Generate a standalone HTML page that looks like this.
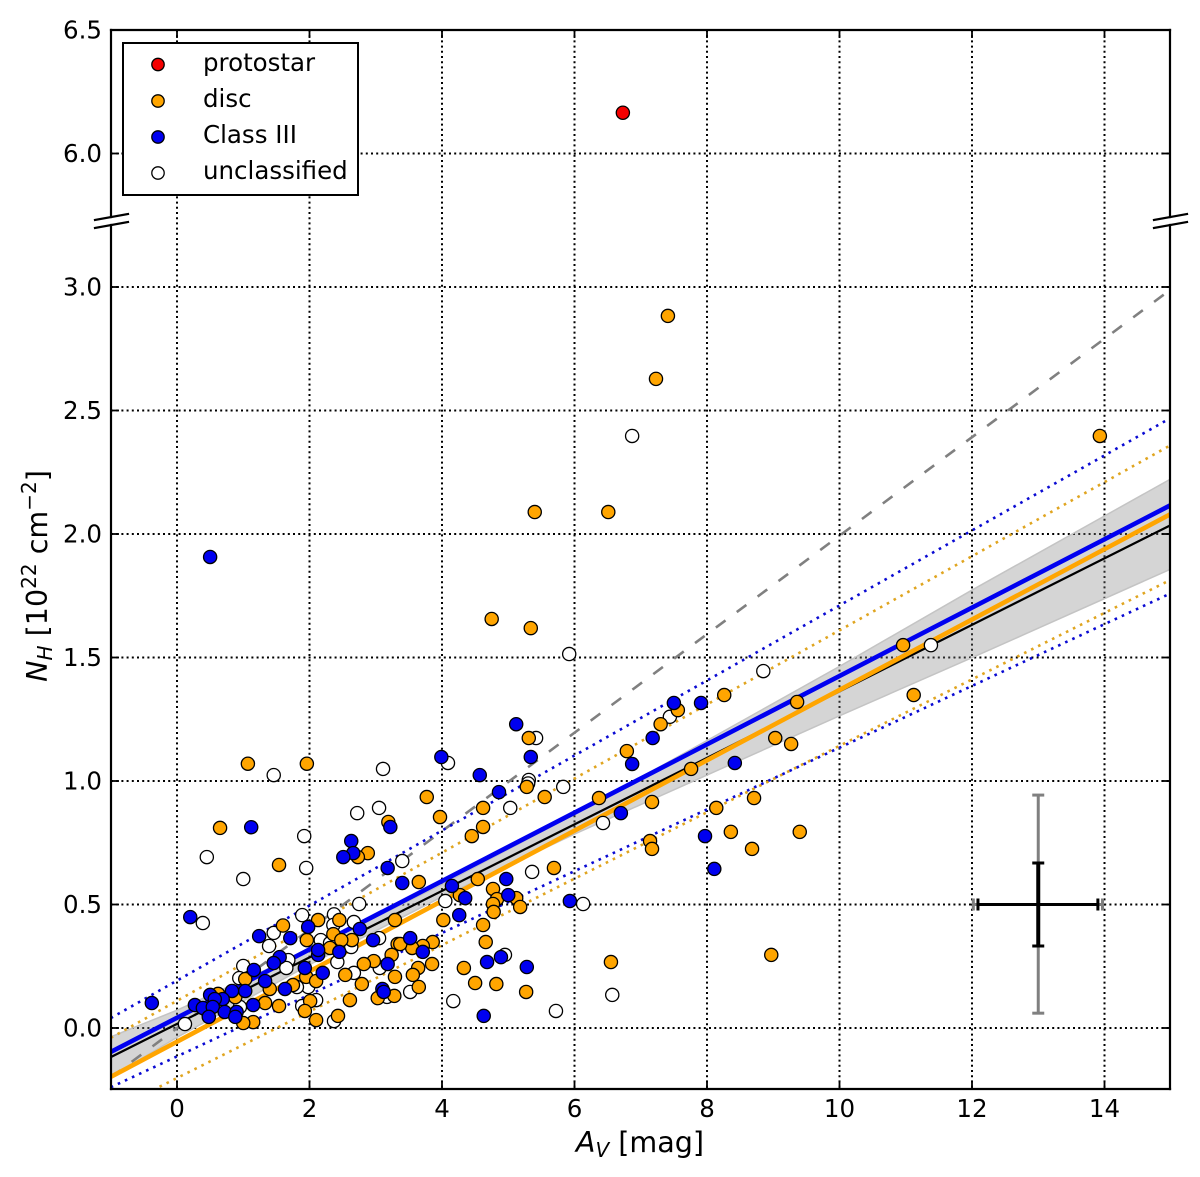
<!DOCTYPE html>
<html lang="en">
<head>
<meta charset="utf-8">
<title>NH vs AV scatter chart</title>
<style>
html,body{margin:0;padding:0;background:#fff;}
svg{display:block;}
text{font-family:"DejaVu Sans","Liberation Sans",sans-serif;fill:#000;}
</style>
</head>
<body>
<svg id="chart" xmlns="http://www.w3.org/2000/svg" width="1200" height="1177" viewBox="0 0 1200 1177">
  <defs><clipPath id="plot-clip"><rect x="111" y="30" width="1059" height="1059"/></clipPath></defs>
  <g id="grid"></g>
  <g id="fits" clip-path="url(#plot-clip)"></g>
  <g id="points"></g>
  <g id="errors"></g>
  <g id="axes"></g>
  <g>
    <rect x="123" y="43" width="235" height="152" fill="#fff" stroke="#000" stroke-width="2"/>
    <circle cx="158" cy="64.5" r="6.2" fill="#f40000" stroke="#000" stroke-width="1.3"/>
    <text x="203" y="71" font-size="24.5">protostar</text>
    <circle cx="158" cy="101" r="6.2" fill="#ffa500" stroke="#000" stroke-width="1.3"/>
    <text x="203" y="107" font-size="24.5">disc</text>
    <circle cx="158" cy="137" r="6.2" fill="#0000f0" stroke="#000" stroke-width="1.3"/>
    <text x="203" y="143" font-size="24.5">Class III</text>
    <circle cx="158" cy="173" r="6.2" fill="#ffffff" stroke="#000" stroke-width="1.3"/>
    <text x="203" y="179" font-size="24.5">unclassified</text>
  </g>
  <text x="640" y="1152" font-size="28.6" text-anchor="middle"><tspan font-style="italic">A</tspan><tspan font-style="italic" font-size="20" dy="5">V</tspan><tspan dy="-5"> [mag]</tspan></text>
  <text transform="translate(47,576) rotate(-90)" font-size="28.6" text-anchor="middle"><tspan font-style="italic">N</tspan><tspan font-style="italic" font-size="20" dy="5">H</tspan><tspan dy="-5"> [10</tspan><tspan font-size="20" dy="-11">22</tspan><tspan dy="11"> cm</tspan><tspan font-size="20" dy="-11">−2</tspan><tspan dy="11">]</tspan></text>
</svg>
<script>
const xTicks = [0, 2, 4, 6, 8, 10, 12, 14];
const xTickLabels = ["0", "2", "4", "6", "8", "10", "12", "14"];
const yTicks = [0, 0.5, 1, 1.5, 2, 2.5, 3, 6, 6.5];
const yTickLabels = ["0.0", "0.5", "1.0", "1.5", "2.0", "2.5", "3.0", "6.0", "6.5"];

const protostarPoints = [[6.73, 6.165]];
const discPoints = [
[1.07,1.07],[1.96,1.07],[0.65,0.81],[1.54,0.66],[1.6,0.415],[2.13,0.437],[2.45,0.437],[1.96,0.356],[2.36,0.38],[2.64,0.356],
[2.48,0.356],[2.31,0.324],[3.29,0.437],[3.33,0.34],[3.24,0.296],[2.97,0.271],[2.82,0.259],[2.54,0.215],[2.79,0.178],[3.29,0.207],
[2.61,0.113],[3.03,0.121],[3.28,0.13],[3.19,0.834],[2.88,0.708],[2.73,0.692],[1.03,0.198],[0.88,0.125],[0.62,0.138],[1.4,0.158],
[1.33,0.101],[1.54,0.089],[1.75,0.174],[1.95,0.207],[2.1,0.19],[2.01,0.109],[1.93,0.069],[2.1,0.032],[2.43,0.049],[1.15,0.024],
[1.0,0.02],[3.77,0.935],[3.97,0.854],[4.62,0.891],[4.62,0.814],[4.45,0.777],[5.55,0.935],[5.31,1.174],[5.28,0.976],[3.65,0.591],
[4.54,0.603],[4.27,0.538],[4.77,0.563],[4.83,0.522],[4.77,0.502],[4.78,0.47],[5.12,0.526],[5.18,0.49],[4.62,0.417],[4.66,0.348],
[5.69,0.648],[4.02,0.437],[3.86,0.348],[3.71,0.332],[3.55,0.324],[3.37,0.34],[3.64,0.243],[3.56,0.215],[3.85,0.259],[3.65,0.166],
[4.33,0.243],[4.5,0.182],[4.82,0.178],[5.27,0.146],[13.93,2.397],[7.41,2.883],[7.23,2.628],[5.4,2.089],[6.51,2.089],[4.75,1.656],
[5.34,1.619],[6.37,0.931],[6.79,1.121],[7.3,1.23],[7.56,1.287],[8.26,1.348],[7.76,1.049],[7.17,0.915],[7.14,0.757],[7.17,0.725],
[8.14,0.891],[8.36,0.794],[8.71,0.931],[8.68,0.725],[9.4,0.794],[8.97,0.296],[9.03,1.174],[9.27,1.15],[9.36,1.32],[10.96,1.55],
[11.12,1.348],[6.55,0.267]
];
const classThreePoints = [
[-0.38,0.101],[0.2,0.449],[1.12,0.813],[1.24,0.372],[1.71,0.364],[1.98,0.409],[1.55,0.287],[1.46,0.263],[1.16,0.235],[1.33,0.19],
[1.03,0.15],[0.83,0.15],[0.5,0.134],[0.69,0.117],[0.57,0.117],[0.27,0.093],[0.39,0.081],[0.54,0.085],[0.48,0.045],[0.72,0.065],
[0.9,0.065],[0.88,0.045],[1.15,0.093],[1.63,0.158],[1.93,0.243],[2.2,0.223],[2.13,0.296],[2.13,0.316],[2.45,0.308],[2.76,0.401],
[2.96,0.356],[3.18,0.259],[3.1,0.158],[3.12,0.146],[2.63,0.757],[2.66,0.708],[2.51,0.692],[3.22,0.814],[3.18,0.648],[3.4,0.587],
[5.12,1.23],[3.99,1.097],[5.34,1.097],[4.57,1.024],[4.86,0.955],[4.15,0.575],[4.35,0.526],[4.26,0.457],[4.97,0.603],[5.0,0.538],
[5.93,0.514],[3.52,0.364],[3.71,0.308],[4.68,0.267],[4.89,0.287],[5.28,0.247],[4.63,0.049],[0.5,1.907],[6.87,1.069],[7.18,1.174],
[7.5,1.316],[7.91,1.316],[8.42,1.073],[7.97,0.777],[8.11,0.644],[6.7,0.87]
];
const unclassifiedPoints = [
[1.46,1.024],[3.11,1.049],[1.92,0.777],[2.72,0.87],[3.05,0.891],[0.45,0.692],[1.0,0.603],[1.95,0.648],[3.4,0.676],[0.39,0.425],
[2.75,0.502],[1.89,0.457],[2.37,0.46],[2.36,0.417],[2.67,0.429],[1.46,0.385],[1.39,0.332],[3.05,0.364],[2.17,0.356],[2.31,0.344],
[2.63,0.328],[1.68,0.275],[1.65,0.243],[2.42,0.267],[1.0,0.251],[0.94,0.202],[3.06,0.243],[2.67,0.223],[1.98,0.166],[1.81,0.166],
[2.1,0.113],[1.89,0.089],[2.37,0.028],[0.12,0.016],[0.95,0.085],[0.47,0.061],[3.17,0.126],[4.09,1.073],[5.42,1.174],[5.31,1.004],
[5.3,0.99],[5.83,0.976],[5.03,0.891],[5.36,0.632],[4.05,0.514],[6.13,0.502],[4.95,0.296],[4.17,0.109],[5.72,0.069],[3.52,0.146],
[6.87,2.397],[5.92,1.514],[8.85,1.445],[11.38,1.55],[6.43,0.83],[6.57,0.134],[7.44,1.26]
];

const fitX = [-1, 15];
const blueFit = [-0.097, 2.117];
const orangeFit = [-0.198, 2.081];
const blackFit = [-0.118, 2.036];
const dashedRelation = [-0.2, 2.99];
const blueUpper = [0.04, 2.47];
const blueLower = [-0.24, 1.76];
const orangeUpper = [-0.04, 2.36];
const orangeLower = [-0.337, 1.815];

const bandX = [-1, 0, 2, 4, 6, 8, 10, 12, 15];
const bandUpper = [-0.036, 0.072, 0.316, 0.581, 0.865, 1.164, 1.464, 1.773, 2.223];
const bandLower = [-0.198, -0.038, 0.256, 0.531, 0.785, 1.024, 1.264, 1.499, 1.858];

const errorCentre = [13, 0.5];
const errorXOuter = [12.02, 13.97];
const errorXInner = [12.09, 13.9];
const errorYOuter = [0.06, 0.943];
const errorYInner = [0.332, 0.668];

const NS = "http://www.w3.org/2000/svg";
const plotLeft = 111, plotRight = 1170, plotTop = 30, plotBottom = 1089;
function sx(v) { return 177 + v * 66.25; }
function sy(v) { return v >= 4 ? 153.5 - (v - 6) * 247 : 1028 - v * 247; }
function make(parent, tag, attrs) {
  const el = document.createElementNS(NS, tag);
  for (const k in attrs) el.setAttribute(k, attrs[k]);
  parent.appendChild(el);
  return el;
}
const gridG = document.getElementById("grid");
const fitsG = document.getElementById("fits");
const pointsG = document.getElementById("points");
const errorsG = document.getElementById("errors");
const axesG = document.getElementById("axes");

xTicks.forEach(function (t, i) {
  const g = make(gridG, "line", {x1: sx(t), x2: sx(t), y1: plotTop, y2: plotBottom, stroke: "#000", "stroke-width": 2, "stroke-dasharray": "2 3.2"});
  
  
  const b = make(axesG, "line", {x1: sx(t), x2: sx(t), y1: plotBottom, y2: plotBottom - 8, stroke: "#000", "stroke-width": 1.8});
  
  
  const u = make(axesG, "line", {x1: sx(t), x2: sx(t), y1: plotTop, y2: plotTop + 8, stroke: "#000", "stroke-width": 1.8});
  
  
  const l = make(axesG, "text", {x: sx(t), y: 1117, "font-size": 24.5, "text-anchor": "middle"});
  l.textContent = xTickLabels[i];
  
  
});
yTicks.forEach(function (t, i) {
  if (t < 6.5) {
    const g = make(gridG, "line", {x1: plotLeft, x2: plotRight, y1: sy(t), y2: sy(t), stroke: "#000", "stroke-width": 2, "stroke-dasharray": "2 3.2"});
    
    
    const a = make(axesG, "line", {x1: plotLeft, x2: plotLeft + 8, y1: sy(t), y2: sy(t), stroke: "#000", "stroke-width": 1.8});
    
    
    const c = make(axesG, "line", {x1: plotRight, x2: plotRight - 8, y1: sy(t), y2: sy(t), stroke: "#000", "stroke-width": 1.8});
    
    
  }
  const l = make(axesG, "text", {x: 102, y: sy(t) + 8.5, "font-size": 24.5, "text-anchor": "end"});
  l.textContent = yTickLabels[i];
  
  
});

let bandPath = "";
bandX.forEach(function (x, i) { bandPath += (i ? "L" : "M") + sx(x) + " " + sy(bandUpper[i]) + " "; });
for (let i = bandX.length - 1; i >= 0; i--) { bandPath += "L" + sx(bandX[i]) + " " + sy(bandLower[i]) + " "; }
const band = make(fitsG, "path", {d: bandPath + "Z", fill: "rgba(128,128,128,0.33)", stroke: "#c4c4c4", "stroke-width": 1.5});



function fitLine(values, colour, width, dash, name) {
  const el = make(fitsG, "line", {x1: sx(fitX[0]), y1: sy(values[0]), x2: sx(fitX[1]), y2: sy(values[1]), stroke: colour, "stroke-width": width});
  if (dash) el.setAttribute("stroke-dasharray", dash);
  
  
}
fitLine(dashedRelation, "#808080", 2.6, "12 14", "dashed-reference-line");
fitLine(orangeUpper, "#e0a520", 2.6, "2.6 5.2", "disc-upper-dotted-line");
fitLine(orangeLower, "#e0a520", 2.6, "2.6 5.2", "disc-lower-dotted-line");
fitLine(blueUpper, "#0a0ad2", 2.6, "2.6 5.2", "class-iii-upper-dotted-line");
fitLine(blueLower, "#0a0ad2", 2.6, "2.6 5.2", "class-iii-lower-dotted-line");
fitLine(blackFit, "#000", 2.2, null, "all-sources-fit-line");
fitLine(orangeFit, "#ffa500", 4.6, null, "disc-fit-line");
fitLine(blueFit, "#0000f0", 4.6, null, "class-iii-fit-line");

function scatter(points, colour, name) {
  points.forEach(function (p) {
    const c = make(pointsG, "circle", {cx: sx(p[0]), cy: sy(p[1]), r: 6.6, fill: colour, stroke: "#000", "stroke-width": 1.3});
    
    
  });
}
scatter(unclassifiedPoints, "#ffffff", "unclassified-point");
scatter(discPoints, "#ffa500", "disc-point");
scatter(classThreePoints, "#0000f0", "class-iii-point");
scatter(protostarPoints, "#f40000", "protostar-point");

function errorSeg(x1, y1, x2, y2, colour, width, name) {
  const el = make(errorsG, "line", {x1: x1, y1: y1, x2: x2, y2: y2, stroke: colour, "stroke-width": width});
  
  
}
const cx = sx(errorCentre[0]), cy = sy(errorCentre[1]);
errorSeg(sx(errorXOuter[0]), cy, sx(errorXOuter[1]), cy, "#808080", 3, "x-error-outer");
errorSeg(cx, sy(errorYOuter[0]), cx, sy(errorYOuter[1]), "#808080", 3, "y-error-outer");
errorXOuter.forEach(function (v) { errorSeg(sx(v), cy - 6, sx(v), cy + 6, "#808080", 3, "x-error-outer-cap"); });
errorYOuter.forEach(function (v) { errorSeg(cx - 6, sy(v), cx + 6, sy(v), "#808080", 3, "y-error-outer-cap"); });
errorSeg(sx(errorXInner[0]), cy, sx(errorXInner[1]), cy, "#000", 3, "x-error-inner");
errorSeg(cx, sy(errorYInner[0]), cx, sy(errorYInner[1]), "#000", 4, "y-error-inner");
errorXInner.forEach(function (v) { errorSeg(sx(v), cy - 6, sx(v), cy + 6, "#000", 3, "x-error-inner-cap"); });
errorYInner.forEach(function (v) { errorSeg(cx - 6, sy(v), cx + 6, sy(v), "#000", 3, "y-error-inner-cap"); });

function spine(x1, y1, x2, y2, name) {
  const el = make(axesG, "line", {x1: x1, y1: y1, x2: x2, y2: y2, stroke: "#000", "stroke-width": 2.2, "stroke-linecap": "square"});
  
  
}
spine(plotLeft, plotTop, plotRight, plotTop, "top-spine");
spine(plotLeft, plotBottom, plotRight, plotBottom, "bottom-spine");
spine(plotLeft, plotTop, plotLeft, 217, "left-spine-upper");
spine(plotLeft, 225, plotLeft, plotBottom, "left-spine-lower");
spine(plotRight, plotTop, plotRight, 217, "right-spine-upper");
spine(plotRight, 225, plotRight, plotBottom, "right-spine-lower");
[plotLeft, plotRight].forEach(function (x) {
  spine(x - 16, 220, x + 17, 214, "axis-break-mark-upper");
  spine(x - 16, 228, x + 17, 222, "axis-break-mark-lower");
});
</script>
</body>
</html>
